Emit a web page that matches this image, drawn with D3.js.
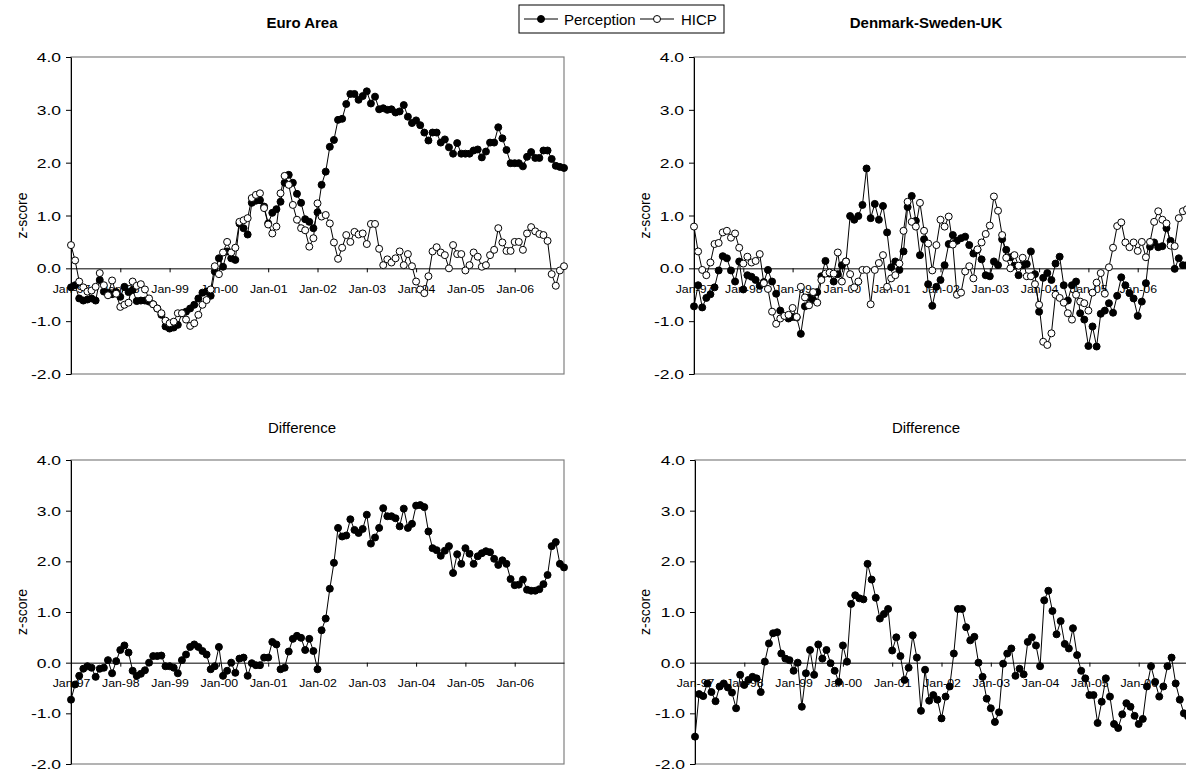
<!DOCTYPE html>
<html>
<head>
<meta charset="utf-8">
<script src="https://cdn.jsdelivr.net/npm/d3@7"></script>
<style>
  body { margin: 0; background: #fff; }
  svg { display: block; font-family: "Liberation Sans", Arial, sans-serif; }
</style>
</head>
<body>
<svg id="chart" width="1186" height="776"></svg>
<script>
// Monthly categories Jan-97 .. Jan-07
const months = d3.timeMonth.range(new Date(1997, 0, 1), new Date(2007, 1, 1)).map(d3.timeFormat("%b-%y"));
const tickLabels = ["Jan-97","Jan-98","Jan-99","Jan-00","Jan-01","Jan-02","Jan-03","Jan-04","Jan-05","Jan-06"];
const yTicks = [-2, -1, 0, 1, 2, 3, 4];

// Euro Area z-scores
const euroPerception = [
  -0.36,-0.32,-0.57,-0.61,-0.59,-0.57,-0.61,-0.22,-0.44,-0.46,-0.49,-0.45,-0.54,-0.35,-0.45,-0.41,-0.62,-0.61,-0.61,-0.63,
  -0.68,-0.76,-0.88,-1.10,-1.14,-1.12,-1.07,-0.85,-0.82,-0.76,-0.69,-0.57,-0.46,-0.44,-0.52,-0.06,0.19,
  0.03,0.32,0.19,0.16,0.85,0.76,0.64,1.24,1.28,1.29,1.17,0.85,1.05,1.12,1.26,1.62,1.77,1.62,1.41,1.24,
  0.93,0.88,0.76,1.06,1.58,1.83,2.30,2.43,2.81,2.83,3.11,3.30,3.30,3.19,3.26,3.35,
  3.12,3.25,3.01,3.03,3.00,3.01,2.95,2.97,3.09,2.87,2.75,2.80,2.71,2.57,2.42,2.57,2.57,2.38,2.44,2.29,
  2.17,2.37,2.17,2.17,2.17,2.23,2.25,2.10,2.21,2.38,2.38,2.67,2.46,2.24,1.99,1.99,1.99,1.93,2.11,
  2.20,2.09,2.09,2.23,2.23,2.07,1.94,1.92,1.90
];
const euroHICP = [
  0.44,0.15,-0.25,-0.36,-0.44,-0.42,-0.35,-0.09,-0.32,-0.51,-0.23,-0.48,-0.73,-0.69,-0.65,-0.25,-0.33,-0.30,-0.40,-0.57,
  -0.68,-0.76,-0.85,-0.99,-1.04,-1.01,-0.85,-0.85,-0.97,-1.09,-1.04,-0.88,-0.69,-0.60,-0.40,0.04,-0.11,
  0.30,0.50,0.30,0.39,0.88,0.91,0.95,1.33,1.39,1.42,1.14,0.83,0.66,0.79,1.42,1.75,1.58,1.20,0.92,0.76,
  0.72,0.41,0.57,1.23,0.98,1.01,0.85,0.49,0.18,0.39,0.63,0.50,0.69,0.64,0.66,0.46,
  0.84,0.84,0.37,0.06,0.17,0.11,0.19,0.32,0.06,0.27,0.04,-0.25,-0.40,-0.47,-0.15,0.32,0.40,0.30,0.25,0.00,
  0.44,0.27,0.27,-0.04,0.06,0.30,0.22,0.03,0.06,0.25,0.35,0.76,0.49,0.33,0.33,0.50,0.50,0.35,0.66,
  0.78,0.70,0.65,0.63,0.52,-0.11,-0.33,-0.04,0.04
];
const euroDifference = [
  -0.73,-0.43,-0.26,-0.12,-0.07,-0.10,-0.28,-0.12,-0.10,0.05,-0.21,0.03,0.25,0.34,0.20,-0.16,-0.26,-0.22,-0.15,0.00,
  0.13,0.13,0.14,-0.07,-0.07,-0.10,-0.21,0.05,0.16,0.31,0.36,0.31,0.23,0.16,-0.13,-0.07,0.31,-0.26,-0.16,0.00,
  -0.20,0.08,0.10,-0.26,-0.01,-0.05,-0.05,0.10,0.10,0.41,0.36,-0.13,-0.10,0.22,0.47,0.53,
  0.49,0.25,0.47,0.23,-0.13,0.64,0.87,1.46,1.97,2.66,2.49,2.51,2.83,2.62,2.56,2.64,2.92,2.35,2.47,2.66,
  3.05,2.89,2.89,2.85,2.69,3.04,2.66,2.74,3.10,3.11,3.07,2.59,2.26,2.22,2.11,2.21,2.30,1.77,2.14,1.95,
  2.26,2.15,1.95,2.10,2.16,2.20,2.18,2.05,1.93,2.02,1.95,1.65,1.53,1.54,1.64,1.44,
  1.42,1.42,1.45,1.55,1.73,2.30,2.38,1.95,1.88
];

// Denmark-Sweden-UK z-scores
const dsuPerception = [
  -0.72,-0.32,-0.74,-0.56,-0.49,-0.36,-0.04,0.23,0.19,-0.04,-0.25,0.13,-0.40,-0.13,-0.16,-0.22,-0.33,-0.26,-0.03,-0.25,
  -0.48,-0.80,-0.90,-0.95,-0.92,-0.93,-1.24,-0.72,-0.55,-0.60,-0.45,-0.15,0.14,-0.10,-0.25,-0.11,0.06,0.13,
  0.99,0.92,0.99,1.20,1.89,0.95,1.22,0.92,1.18,0.68,0.02,0.13,-0.03,0.32,1.16,1.37,0.90,0.25,0.55,-0.30,
  -0.71,-0.35,-0.22,0.06,0.46,0.63,0.52,0.57,0.60,0.44,0.28,0.35,0.17,-0.13,-0.15,0.13,0.06,0.55,0.35,
  0.21,0.05,-0.13,0.06,0.08,0.32,-0.11,-0.82,-0.18,-0.09,-0.22,0.09,0.22,-0.32,-0.61,-0.32,-0.25,-0.85,-0.97,-1.47,
  -1.10,-1.48,-0.86,-0.80,-0.66,-0.84,-0.52,-0.17,-0.32,-0.47,-0.57,-0.90,-0.63,-0.28,0.41,0.49,0.40,0.42,0.76,0.52,
  -0.01,0.19,0.06,0.06
];
const dsuHICP = [
  0.79,0.32,-0.03,-0.13,0.11,0.46,0.48,0.68,0.71,0.58,0.66,0.39,0.09,0.22,0.11,0.14,0.27,-0.28,-0.39,-0.82,
  -1.05,-0.95,-0.90,-0.88,-0.75,-0.92,-0.35,-0.55,-0.70,-0.45,-0.65,-0.22,-0.10,-0.08,-0.10,0.30,-0.25,0.13,
  -0.11,-0.36,-0.25,-0.03,-0.03,-0.68,-0.03,0.10,0.25,-0.35,-0.19,-0.13,0.09,0.71,1.26,0.88,0.79,1.24,0.71,0.47,
  -0.04,0.44,0.92,0.79,0.98,0.45,-0.50,-0.46,-0.06,0.04,-0.19,0.36,0.49,0.65,0.81,1.36,1.09,0.63,0.20,
  0.00,0.25,0.05,0.20,-0.15,-0.15,-0.30,-0.69,-1.39,-1.45,-1.23,-0.50,-0.56,-0.65,-0.85,-0.97,-0.50,-0.63,-0.66,-0.80,
  -0.46,-0.27,-0.09,-0.48,0.02,0.39,0.80,0.87,0.49,0.40,0.49,0.33,0.50,0.21,0.50,0.88,1.08,0.92,0.85,0.43,
  0.42,0.95,1.08,1.12
];
const dsuDifference = [
  -1.46,-0.62,-0.66,-0.41,-0.58,-0.76,-0.47,-0.41,-0.49,-0.59,-0.90,-0.24,-0.44,-0.34,-0.28,-0.31,-0.58,0.02,0.38,0.58,
  0.60,0.18,0.08,0.05,-0.16,0.00,-0.87,-0.21,0.25,-0.24,0.36,0.08,0.25,-0.01,-0.16,-0.38,0.34,0.02,1.16,1.33,
  1.27,1.25,1.95,1.64,1.28,0.87,0.96,1.06,0.24,0.50,0.13,-0.34,-0.10,0.54,0.10,-0.95,
  -0.14,-0.75,-0.64,-0.73,-1.10,-0.67,-0.47,0.18,1.06,1.06,0.70,0.44,0.51,0.00,-0.28,-0.71,-0.90,-1.17,-0.98,-0.02,
  0.18,0.28,-0.26,-0.12,-0.23,0.41,0.50,0.34,-0.07,1.23,1.42,1.02,0.56,0.82,0.37,0.28,0.68,0.15,-0.16,-0.31,
  -0.64,-0.64,-1.19,-0.77,-0.31,-0.67,-1.21,-1.29,-1.02,-0.80,-0.87,-1.05,-1.21,-1.11,-0.47,-0.07,-0.38,-0.67,-0.47,-0.07,
  0.10,-0.41,-0.73,-1.00,-1.06
];

const W = 1186, H = 776;
const svg = d3.select("#chart");
svg.append("rect").attr("width", W).attr("height", H).attr("fill", "#fff");

const panels = [
  { x0: 71,  x1: 564,  y0: 57,  y1: 374, title: "Euro Area", bold: true, tx: 302, ty: 28, zx: 22,
    series: [{ values: euroPerception, open: false }, { values: euroHICP, open: true }], labelDy: 25 },
  { x0: 694, x1: 1187, y0: 57,  y1: 374, title: "Denmark-Sweden-UK", bold: true, tx: 926, ty: 28, zx: 645,
    series: [{ values: dsuPerception, open: false }, { values: dsuHICP, open: true }], labelDy: 25 },
  { x0: 71,  x1: 564,  y0: 460, y1: 764, title: "Difference", bold: false, tx: 302, ty: 433, zx: 22,
    series: [{ values: euroDifference, open: false }], labelDy: 24 },
  { x0: 695, x1: 1188, y0: 460, y1: 764, title: "Difference", bold: false, tx: 926, ty: 433, zx: 645,
    series: [{ values: dsuDifference, open: false }], labelDy: 24 }
];

panels.forEach(p => {
  const x = d3.scalePoint().domain(months).range([p.x0, p.x1]);
  const y = d3.scaleLinear().domain([-2, 4]).range([p.y1, p.y0]);
  const g = svg.append("g");

  // plot area border
  g.append("rect")
    .attr("x", p.x0).attr("y", p.y0)
    .attr("width", p.x1 - p.x0).attr("height", p.y1 - p.y0)
    .attr("fill", "none").attr("stroke", "#808080").attr("stroke-width", 1.2);

  // value axis
  const ya = g.append("g").attr("transform", `translate(${p.x0},0)`)
    .call(d3.axisLeft(y).tickValues(yTicks).tickSize(5).tickSizeOuter(0).tickFormat(d => d.toFixed(1)));
  ya.select(".domain").attr("stroke", "#000");
  ya.selectAll(".tick line").attr("stroke", "#000");
  ya.selectAll(".tick text")
    .attr("x", 0).attr("dy", 0)
    .attr("transform", "translate(-10,4.5) scale(1.4,1)")
    .attr("font-size", 12.5).attr("fill", "#000")
    .attr("font-family", "Liberation Sans, Arial, sans-serif");

  // category axis crossing at zero
  const xa = g.append("g").attr("transform", `translate(0,${y(0)})`)
    .call(d3.axisBottom(x).tickValues(tickLabels).tickSize(4).tickSizeOuter(0));
  xa.select(".domain").attr("stroke", "#000");
  xa.selectAll(".tick line").attr("stroke", "#000");
  xa.selectAll(".tick text")
    .attr("y", 0).attr("dy", 0)
    .attr("transform", `translate(0,${p.labelDy}) scale(1.12,1)`)
    .attr("font-size", 11).attr("fill", "#000")
    .attr("font-family", "Liberation Sans, Arial, sans-serif");

  // titles
  svg.append("text")
    .attr("x", p.tx).attr("y", p.ty)
    .attr("text-anchor", "middle")
    .attr("font-size", 15)
    .attr("font-weight", p.bold ? "bold" : "normal")
    .text(p.title);

  svg.append("text")
    .attr("transform", `translate(${p.zx},${(p.y0 + p.y1) / 2}) rotate(-90)`)
    .attr("text-anchor", "middle")
    .attr("dy", "0.35em")
    .attr("font-size", 14)
    .text("z-score");

  // series: line with markers, HICP drawn last so its open circles sit on top
  const line = d3.line().x((d, i) => x(months[i])).y(d => y(d));
  p.series.forEach(s => {
    const sg = g.append("g");
    sg.append("path").datum(s.values)
      .attr("d", line).attr("fill", "none").attr("stroke", "#000").attr("stroke-width", 1);
    sg.selectAll("circle").data(s.values).join("circle")
      .attr("cx", (d, i) => x(months[i])).attr("cy", d => y(d))
      .attr("r", 3.5)
      .attr("fill", s.open ? "#fff" : "#000")
      .attr("stroke", "#000").attr("stroke-width", 1);
  });
});

// legend
const lg = svg.append("g");
lg.append("rect").attr("x", 519).attr("y", 5).attr("width", 205).attr("height", 28)
  .attr("fill", "#fff").attr("stroke", "#000").attr("stroke-width", 1);
const legendItems = [
  { label: "Perception", open: false, lx: 524, tx: 564 },
  { label: "HICP", open: true, lx: 640, tx: 681 }
];
legendItems.forEach(it => {
  lg.append("line").attr("x1", it.lx).attr("x2", it.lx + 34).attr("y1", 19).attr("y2", 19)
    .attr("stroke", "#000").attr("stroke-width", 1);
  lg.append("circle").attr("cx", it.lx + 17).attr("cy", 19).attr("r", 3.5)
    .attr("fill", it.open ? "#fff" : "#000").attr("stroke", "#000");
  lg.append("text").attr("x", it.tx).attr("y", 24.5).attr("font-size", 15).text(it.label);
});
</script>
</body>
</html>
